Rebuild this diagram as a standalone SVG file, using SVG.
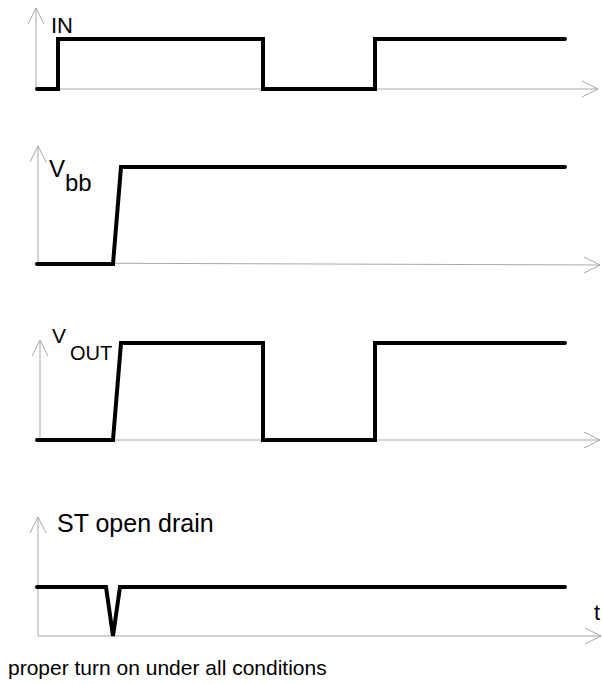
<svg xmlns="http://www.w3.org/2000/svg" width="602" height="684" viewBox="0 0 602 684">
<style>
.ax{fill:none;stroke:#a8a8a8;stroke-width:1}
.sig{fill:none;stroke:#000;stroke-width:4;stroke-linecap:round;stroke-linejoin:miter}
text{font-family:"Liberation Sans",Arial,sans-serif;fill:#000}
</style>
<rect width="602" height="684" fill="#fff"/>
<g id="connectors">
<g id="axes">
<path class="ax" d="M36,89 V8 M28,24 L36,8 L44,24"/>
<path class="ax" d="M36,89 H598 M582,81 L598,89 L582,97"/>
<path class="ax" d="M38,263 V146 M30,162 L38,146 L46,162"/>
<path class="ax" d="M38,263 L600,265 M584,257 L600,265 L584,273"/>
<path class="ax" d="M40,440 V340 M32,356 L40,340 L48,356"/>
<path class="ax" d="M40,440 H600 M584,432 L600,440 L584,448"/>
<path class="ax" d="M38,636 V517 M30,533 L38,517 L46,533"/>
<path class="ax" d="M38,636 H601 M585,628 L601,636 L585,644"/>
</g>
</g>
<g id="signal-in">
<path class="sig" d="M37,89 H58 V39 H263 V89 H375 V39 H565"/>
<text x="51" y="33" font-size="22">IN</text>
</g>
<g id="signal-vbb">
<path class="sig" d="M37,264 H113 L121,167 H565"/>
<text x="49" y="177" font-size="24">V</text>
<text x="65" y="191" font-size="24">bb</text>
</g>
<g id="signal-vout">
<path class="sig" d="M37,440 H113 L121,343 H263 V440 H375 V343 H565"/>
<text x="52" y="343" font-size="21">V</text>
<text x="70" y="360" font-size="20">OUT</text>
</g>
<g id="signal-st">
<path class="sig" d="M37,587 H106 L113,636 L120,587 H565"/>
<text x="57" y="532" font-size="25">ST open drain</text>
<text x="594" y="620" font-size="22">t</text>
</g>
<text x="8" y="675" font-size="21">proper turn on under all conditions</text>
</svg>
